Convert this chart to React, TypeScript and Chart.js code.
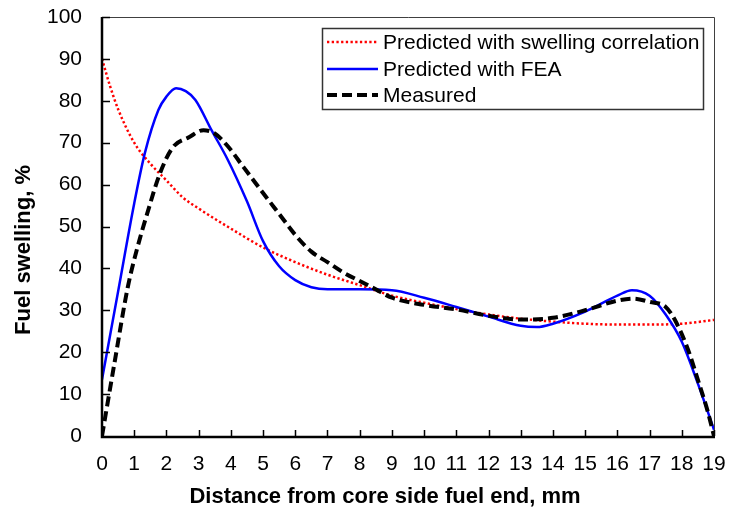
import React, { useEffect, useRef } from "react";
import { Chart, registerables } from "chart.js";

Chart.register(...registerables);

const correlationX = [0, 0.25, 0.5, 1, 1.5, 2, 2.5, 3, 4, 5, 6, 7, 8, 9, 10, 11, 12, 13, 14, 15, 16, 17, 18, 19];
const correlationY = [90, 83.5, 78, 70, 65, 61, 57, 54.3, 49.5, 45, 41.5, 38.5, 36, 33.5, 31.8, 30.3, 29, 28, 27.3, 26.8, 26.6, 26.6, 26.8, 27.7];

const feaX = [0, 0.5, 1, 1.33, 1.75, 2, 2.3, 2.6, 2.9, 3.4, 3.9, 4.5, 5, 5.5, 6, 6.5, 7, 8, 9, 10, 11, 12, 13, 13.5, 14, 15, 16, 16.45, 17, 17.5, 18, 18.5, 19];
const feaY = [13.5, 34.5, 55.5, 67.5, 77.8, 81, 83, 82.3, 80.2, 73, 66, 56, 46.5, 40.5, 37.2, 35.5, 35, 35, 34.8, 33, 30.8, 28.5, 26.3, 26, 26.8, 29.7, 33.5, 34.8, 33.5, 29, 22.5, 12.5, 1.5];

const measuredX = [0, 0.4, 0.8, 1.1, 1.4, 1.8, 2.2, 2.7, 3.15, 3.5, 3.9, 4.4, 5, 5.5, 6, 6.5, 7, 7.5, 8, 8.5, 9, 10, 11, 12, 13, 14, 15, 16, 16.5, 17, 17.5, 17.8, 18.2, 18.5, 18.8, 19];
const measuredY = [0, 18, 35.5, 45, 53, 62.7, 68.9, 71.3, 73, 72.2, 69.2, 64.1, 58, 53, 48, 44, 41.5, 39, 37, 35, 33, 31.3, 30.2, 28.7, 27.8, 28.2, 30, 32.3, 32.8, 32, 30.8, 27.5, 20.5, 13.4, 6, 0];

const seriesLabels = ["Predicted with swelling correlation", "Predicted with FEA", "Measured"];
const xTitle = "Distance from core side fuel end, mm";
const yTitle = "Fuel swelling, %";

const FONT = "'Liberation Sans', Arial, sans-serif";

const pts = (xs: number[], ys: number[]) => xs.map((x, i) => ({ x, y: ys[i] }));

const decorPlugin = {
  id: "decor",
  afterDraw(chart: any) {
    const ctx = chart.ctx as CanvasRenderingContext2D;
    const { left, right, top, bottom } = chart.chartArea;
    const xs = chart.scales.x;
    const ys = chart.scales.y;
    ctx.save();
    ctx.strokeStyle = "#404040";
    ctx.lineWidth = 1;
    ctx.beginPath();
    ctx.moveTo(left, top + 0.5);
    ctx.lineTo(right + 0.5, top + 0.5);
    ctx.lineTo(right + 0.5, bottom);
    ctx.stroke();
    ctx.strokeStyle = "#000";
    ctx.lineWidth = 2.5;
    ctx.beginPath();
    ctx.moveTo(left, top);
    ctx.lineTo(left, bottom + 1);
    ctx.lineTo(right + 1, bottom + 1);
    ctx.stroke();
    ctx.lineWidth = 1.5;
    ctx.beginPath();
    for (let v = 10; v <= 100; v += 10) {
      const py = Math.round(ys.getPixelForValue(v)) + 0.5;
      ctx.moveTo(left, py);
      ctx.lineTo(left + 8, py);
    }
    for (let v = 1; v <= 19; v += 1) {
      const px = Math.round(xs.getPixelForValue(v)) + 0.5;
      ctx.moveTo(px, bottom);
      ctx.lineTo(px, bottom - 6);
    }
    ctx.stroke();

    ctx.fillStyle = "#000";
    ctx.font = `bold 22px ${FONT}`;
    ctx.textAlign = "center";
    ctx.textBaseline = "middle";
    ctx.fillText(xTitle, 385, 497);
    ctx.save();
    ctx.translate(24, 250);
    ctx.rotate(-Math.PI / 2);
    ctx.fillText(yTitle, 0, 0);
    ctx.restore();

    const bx = 322, by = 28, bw = 381, bh = 81;
    ctx.fillStyle = "#fff";
    ctx.fillRect(bx, by, bw, bh);
    ctx.strokeStyle = "#333";
    ctx.lineWidth = 1.5;
    ctx.strokeRect(bx + 0.5, by + 0.5, bw, bh);
    const rows = [42, 69, 95];
    const styles = [
      { color: "#ff0000", width: 2.5, dash: [2.3, 2.4] },
      { color: "#0000ff", width: 2.5, dash: [] as number[] },
      { color: "#000000", width: 4, dash: [10, 5] },
    ];
    ctx.font = `21px ${FONT}`;
    ctx.textAlign = "left";
    rows.forEach((ry, i) => {
      const s = styles[i];
      ctx.strokeStyle = s.color;
      ctx.lineWidth = s.width;
      ctx.setLineDash(s.dash);
      ctx.beginPath();
      ctx.moveTo(327, ry);
      ctx.lineTo(378, ry);
      ctx.stroke();
      ctx.setLineDash([]);
      ctx.fillStyle = "#000";
      ctx.fillText(seriesLabels[i], 383, ry + 1);
    });
    ctx.restore();
  },
};

export default function App() {
  const ref = useRef<HTMLCanvasElement | null>(null);
  useEffect(() => {
    document.body.style.margin = "0";
    if (!ref.current) return;
    const chart = new Chart(ref.current, {
      type: "line",
      data: {
        datasets: [
          {
            label: seriesLabels[0],
            data: pts(correlationX, correlationY),
            borderColor: "#ff0000",
            borderWidth: 2.5,
            borderDash: [2.3, 2.4],
            pointRadius: 0,
            cubicInterpolationMode: "monotone",
            fill: false,
            order: 3,
          },
          {
            label: seriesLabels[1],
            data: pts(feaX, feaY),
            borderColor: "#0000ff",
            borderWidth: 2.5,
            pointRadius: 0,
            cubicInterpolationMode: "monotone",
            fill: false,
            order: 2,
          },
          {
            label: seriesLabels[2],
            data: pts(measuredX, measuredY),
            borderColor: "#000000",
            borderWidth: 4,
            borderDash: [10, 5],
            pointRadius: 0,
            cubicInterpolationMode: "monotone",
            fill: false,
            order: 1,
          },
        ],
      },
      options: {
        animation: false,
        responsive: false,
        maintainAspectRatio: false,
        layout: { padding: { left: 0, right: 15, top: 17, bottom: 0 } },
        plugins: { legend: { display: false }, tooltip: { enabled: false } },
        scales: {
          x: {
            type: "linear",
            min: 0,
            max: 19,
            grid: { display: false, drawTicks: true, tickLength: 16 },
            border: { display: false },
            ticks: {
              stepSize: 1,
              padding: 0,
              color: "#000",
              font: { family: FONT, size: 21 },
              maxRotation: 0,
              autoSkip: false,
            },
            afterFit: (s: any) => {
              s.height = 76;
            },
          },
          y: {
            min: 0,
            max: 100,
            grid: { display: false, drawTicks: true, tickLength: 20 },
            border: { display: false },
            ticks: {
              stepSize: 10,
              padding: 0,
              color: "#000",
              font: { family: FONT, size: 21 },
            },
            afterFit: (s: any) => {
              s.width = 102;
            },
          },
        },
      },
      plugins: [decorPlugin],
    });
    return () => chart.destroy();
  }, []);
  return (
    <div style={{ width: 729, height: 512 }}>
      <canvas ref={ref} width={729} height={512} style={{ width: 729, height: 512, display: "block" }} />
    </div>
  );
}
